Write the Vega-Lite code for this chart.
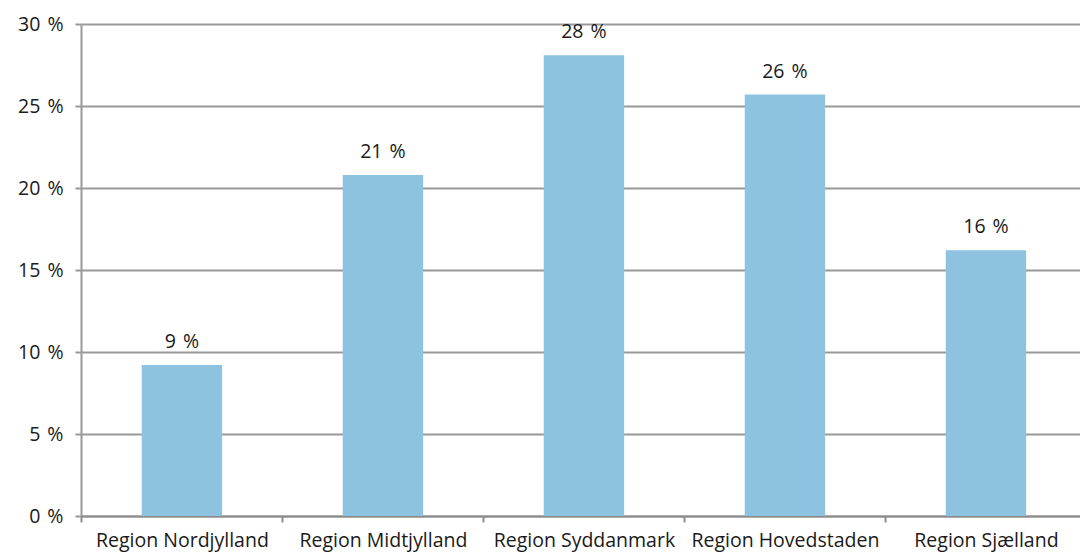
{
  "$schema": "https://vega.github.io/schema/vega-lite/v6.json",
  "autosize": {"type": "none"},
  "width": 999,
  "height": 492,
  "padding": {"left": 81, "top": 24, "right": 0, "bottom": 37},
  "background": "white",
  "data": {"values": [
    {"region": "Region Nordjylland", "pct": 9.2, "label": "9 \u200a%"},
    {"region": "Region Midtjylland", "pct": 20.8, "label": "21 \u200a%"},
    {"region": "Region Syddanmark", "pct": 28.1, "label": "28 \u200a%"},
    {"region": "Region Hovedstaden", "pct": 25.7, "label": "26 \u200a%"},
    {"region": "Region Sjælland", "pct": 16.2, "label": "16 \u200a%"}
  ]},
  "config": {
    "view": {"stroke": null},
    "font": "Open Sans"
  },
  "encoding": {
    "x": {
      "field": "region", "type": "nominal", "sort": null,
      "scale": {"paddingInner": 0.6, "paddingOuter": 0.285, "align": 0.53},
      "axis": {
        "title": null, "labelAngle": 0, "labelFontSize": 19.5, "labelColor": "#1a1a1a",
        "labelPadding": 9, "labelLimit": 0, "tickOffset": -100.5, "labelOffset": 100.5,
        "tickSize": 6, "tickColor": "#8c8c8c",
        "domainColor": "#8c8c8c", "domainWidth": 2, "tickWidth": 2, "grid": false,
        "labelFont": "Open Sans"
      }
    },
    "y": {
      "field": "pct", "type": "quantitative",
      "scale": {"domain": [0, 30], "nice": false},
      "axis": {
        "title": null, "values": [0, 5, 10, 15, 20, 25, 30],
        "labelExpr": "datum.value + ' \u200a%'", "labelFontSize": 19.5, "labelColor": "#1a1a1a",
        "labelPadding": 12, "tickSize": 6, "tickColor": "#999999", "tickWidth": 2,
        "domainColor": "#999999", "domainWidth": 2,
        "grid": true, "gridColor": "#999999", "gridWidth": 2,
        "labelFont": "Open Sans"
      }
    }
  },
  "layer": [
    {"mark": {"type": "bar", "color": "#8DC3E1"}},
    {
      "mark": {"type": "text", "dy": -23, "fontSize": 19.5, "color": "#1a1a1a", "font": "Open Sans"},
      "encoding": {"text": {"field": "label"}}
    }
  ]
}
